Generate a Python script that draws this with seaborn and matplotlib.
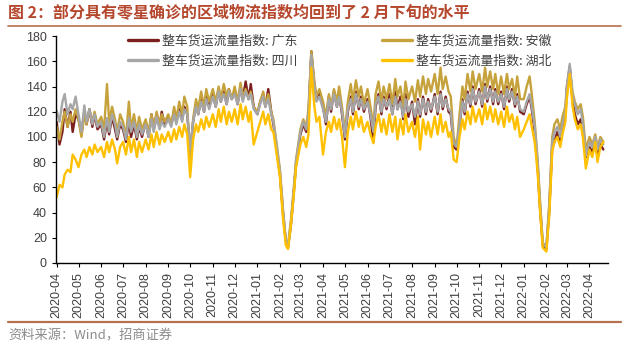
import pandas as pd
import seaborn as sns
import matplotlib.pyplot as plt
from matplotlib.lines import Line2D

# sample days inside each month (offset from the 1st)
day_offsets = [0, 4, 8, 11, 15, 19, 22, 26]
months = pd.date_range("2020-04-01", "2022-04-01", freq="MS")

labels = ["整车货运流量指数: 广东", "整车货运流量指数: 安徽", "整车货运流量指数: 四川", "整车货运流量指数: 湖北"]

guangdong = [
    112, 94, 104, 122, 108, 120, 104, 118,   # 2020-04
    114, 102, 120, 110, 122, 108, 118, 106,
    110, 98, 112, 102, 116, 106, 98, 110,
    106, 96, 112, 100, 110, 98, 108, 100,
    112, 100, 118, 106, 116, 108, 120, 110,
    116, 110, 120, 112, 122, 114, 124, 118,
    88, 112, 126, 118, 130, 120, 132, 124,   # 2020-10
    134, 124, 138, 128, 136, 126, 138, 130,
    136, 126, 140, 130, 144, 130, 142, 124,
    118, 128, 134, 124, 138, 120, 110, 92,   # 2021-01
    70, 40, 17, 12, 30, 56, 78, 94,
    102, 110, 104, 116, 168, 142, 130, 136,
    124, 110, 132, 120, 136, 124, 134, 118,
    98, 120, 132, 118, 136, 122, 132, 120,
    130, 116, 96, 124, 134, 118, 132, 122,
    134, 118, 136, 122, 132, 114, 134, 116,  # 2021-07
    128, 110, 130, 116, 132, 118, 130, 120,
    134, 118, 136, 122, 132, 120, 118, 92,
    90, 108, 130, 118, 136, 124, 140, 126,
    138, 124, 142, 128, 140, 126, 138, 126,
    136, 122, 140, 128, 138, 124, 134, 120,
    118, 126, 132, 122, 104, 76, 46, 14,     # 2022-01
    11, 42, 92, 96, 104, 94, 106, 116,
    138, 156, 128, 118, 110, 114, 102, 84,
    92, 88, 96, 86, 94, 90,
]

anhui = [
    108, 98, 112, 120, 108, 118, 112, 122,   # 2020-04
    114, 100, 118, 110, 122, 112, 120, 110,
    116, 106, 142, 112, 124, 114, 104, 118,
    112, 100, 128, 106, 118, 104, 116, 106,
    114, 104, 118, 108, 120, 110, 118, 112,
    118, 110, 124, 114, 128, 118, 132, 124,
    82, 114, 130, 122, 136, 124, 138, 128,   # 2020-10
    138, 128, 140, 130, 142, 132, 138, 130,
    140, 128, 143, 132, 138, 130, 136, 124,
    120, 128, 136, 126, 134, 120, 114, 96,   # 2021-01
    74, 44, 18, 14, 34, 60, 82, 98,
    106, 114, 108, 122, 168, 145, 132, 138,
    128, 116, 134, 124, 138, 128, 140, 124,
    104, 128, 142, 128, 145, 132, 140, 126,
    138, 124, 108, 134, 144, 128, 140, 130,
    142, 126, 146, 132, 140, 124, 144, 130,  # 2021-07
    140, 128, 145, 132, 148, 134, 146, 136,
    150, 134, 155, 138, 148, 136, 132, 100,
    92, 118, 140, 130, 150, 136, 152, 138,
    150, 136, 155, 140, 152, 138, 150, 134,
    148, 134, 150, 138, 146, 132, 148, 130,
    130, 140, 148, 134, 112, 82, 52, 16,     # 2022-01
    13, 48, 100, 110, 114, 106, 116, 124,
    140, 155, 135, 128, 122, 126, 116, 90,
    100, 94, 102, 92, 100, 96,
]

sichuan = [
    121, 112, 128, 134, 118, 126, 122, 132,  # 2020-04
    118, 104, 125, 112, 122, 110, 118, 108,
    112, 100, 115, 104, 118, 110, 100, 112,
    108, 98, 115, 104, 112, 100, 110, 102,
    110, 100, 114, 104, 116, 106, 112, 108,
    114, 108, 118, 110, 120, 112, 122, 118,
    90, 112, 124, 118, 128, 120, 130, 122,   # 2020-10
    132, 124, 136, 128, 134, 126, 136, 130,
    134, 126, 138, 128, 136, 130, 134, 122,
    118, 126, 132, 124, 130, 118, 112, 95,   # 2021-01
    72, 42, 18, 13, 32, 58, 80, 96,
    104, 112, 106, 118, 165, 140, 128, 132,
    122, 112, 130, 122, 134, 124, 132, 120,
    100, 122, 130, 120, 134, 124, 130, 122,
    128, 118, 104, 126, 132, 120, 130, 124,
    130, 118, 132, 122, 128, 116, 130, 120,  # 2021-07
    126, 116, 128, 118, 130, 120, 128, 122,
    132, 120, 134, 124, 130, 122, 120, 95,
    92, 110, 128, 120, 134, 126, 138, 128,
    136, 126, 140, 130, 138, 128, 136, 128,
    134, 124, 138, 130, 136, 126, 132, 122,
    120, 128, 134, 124, 108, 80, 50, 16,     # 2022-01
    12, 45, 96, 104, 108, 100, 110, 120,
    140, 158, 132, 126, 118, 122, 110, 85,
    96, 92, 100, 90, 98, 94,
]

hubei = [
    52, 62, 60, 70, 74, 72, 86, 82,          # 2020-04
    76, 86, 90, 84, 92, 86, 94, 88,
    92, 84, 96, 88, 98, 90, 79, 92,
    96, 86, 100, 88, 98, 84, 96, 88,
    98, 90, 102, 92, 104, 94, 102, 96,
    104, 96, 106, 98, 108, 100, 110, 102,
    68, 98, 110, 104, 114, 106, 116, 108,    # 2020-10
    118, 108, 122, 112, 124, 110, 120, 112,
    122, 110, 126, 114, 124, 112, 120, 94,
    104, 112, 120, 110, 118, 106, 104, 88,   # 2021-01
    68, 36, 14, 11, 30, 54, 76, 88,
    94, 100, 92, 102, 155, 125, 112, 116,
    86, 104, 112, 104, 116, 106, 114, 100,
    76, 104, 116, 106, 120, 108, 116, 104,
    112, 102, 95, 108, 118, 104, 114, 102,
    118, 104, 116, 98, 114, 102, 118, 104,   # 2021-07
    112, 100, 116, 90, 114, 102, 112, 100,
    116, 102, 118, 104, 112, 100, 104, 82,
    80, 100, 114, 106, 120, 110, 124, 112,
    122, 110, 126, 114, 124, 112, 122, 110,
    120, 108, 124, 112, 118, 106, 116, 100,
    106, 112, 118, 108, 96, 72, 44, 12,      # 2022-01
    9, 38, 88, 96, 100, 92, 102, 112,
    130, 150, 124, 114, 106, 110, 100, 75,
    90, 84, 96, 80, 92, 96,
]

colors = ["#7B1F1F", "#C6A23C", "#A6A6A6", "#FFC000"]

all_dates = [m + pd.Timedelta(days=d) for m in months for d in day_offsets]
frames = []
for lab, vals in zip(labels, [guangdong, anhui, sichuan, hubei]):
    frames.append(pd.DataFrame({"date": all_dates[:len(vals)], "value": vals, "series": lab}))
df = pd.concat(frames, ignore_index=True)

sns.set_style("white")
plt.rcParams["font.family"] = ["Liberation Sans", "Noto Sans CJK SC", "DejaVu Sans"]

fig = plt.figure(figsize=(6.35, 3.51), dpi=100)
ax = fig.add_axes([0.088, 0.251, 0.869, 0.646])

sns.lineplot(data=df, x="date", y="value", hue="series", hue_order=labels,
             palette=dict(zip(labels, colors)), linewidth=1.7, legend=False, ax=ax)

ax.set_ylim(0, 180)
ax.set_yticks(range(0, 181, 20))
ax.set_xlim(pd.Timestamp("2020-03-31"), pd.Timestamp("2022-04-26"))
ax.set_xticks(months)
ax.set_xticklabels([m.strftime("%Y-%m") for m in months], rotation=90)
ax.tick_params(axis="both", labelsize=9, colors="#404040", length=3, direction="out",
               left=True, bottom=True)
ax.tick_params(axis="both", color="black")
ax.set_xlabel("")
ax.set_ylabel("")
for s in ["top", "right"]:
    ax.spines[s].set_visible(False)
for s in ["left", "bottom"]:
    ax.spines[s].set_color("black")
    ax.spines[s].set_linewidth(1)

# legend: two columns, 广东/四川 left, 安徽/湖北 right
handles = [Line2D([], [], color=c, lw=2.4) for c in colors]
order = [0, 2, 1, 3]
ax.legend([handles[i] for i in order], [labels[i] for i in order], ncol=2,
          loc="upper left", bbox_to_anchor=(0.11, 1.06), frameon=False,
          labelcolor="#404040", handlelength=2.3, handletextpad=0.3,
          columnspacing=6.6, labelspacing=0.6,
          prop={"family": ["Noto Sans CJK SC"], "size": 9.3})

fig.text(0.013, 0.962, "图 2：部分具有零星确诊的区域物流指数均回到了 2 月下旬的水平",
         fontsize=11.5, fontweight="bold", color="#B5472D", va="center",
         family=["Noto Sans CJK SC"])
fig.add_artist(Line2D([0.012, 0.978], [0.925, 0.925], color="#B5704F", lw=1.2))
fig.add_artist(Line2D([0.012, 0.978], [0.083, 0.083], color="#B5704F", lw=1.6))
fig.text(0.013, 0.042, "资料来源：Wind，招商证券", fontsize=9.5, color="#8C8C8C", va="center",
         family=["Noto Sans CJK SC", "Liberation Sans"])

fig.savefig("out.png", dpi=100)
